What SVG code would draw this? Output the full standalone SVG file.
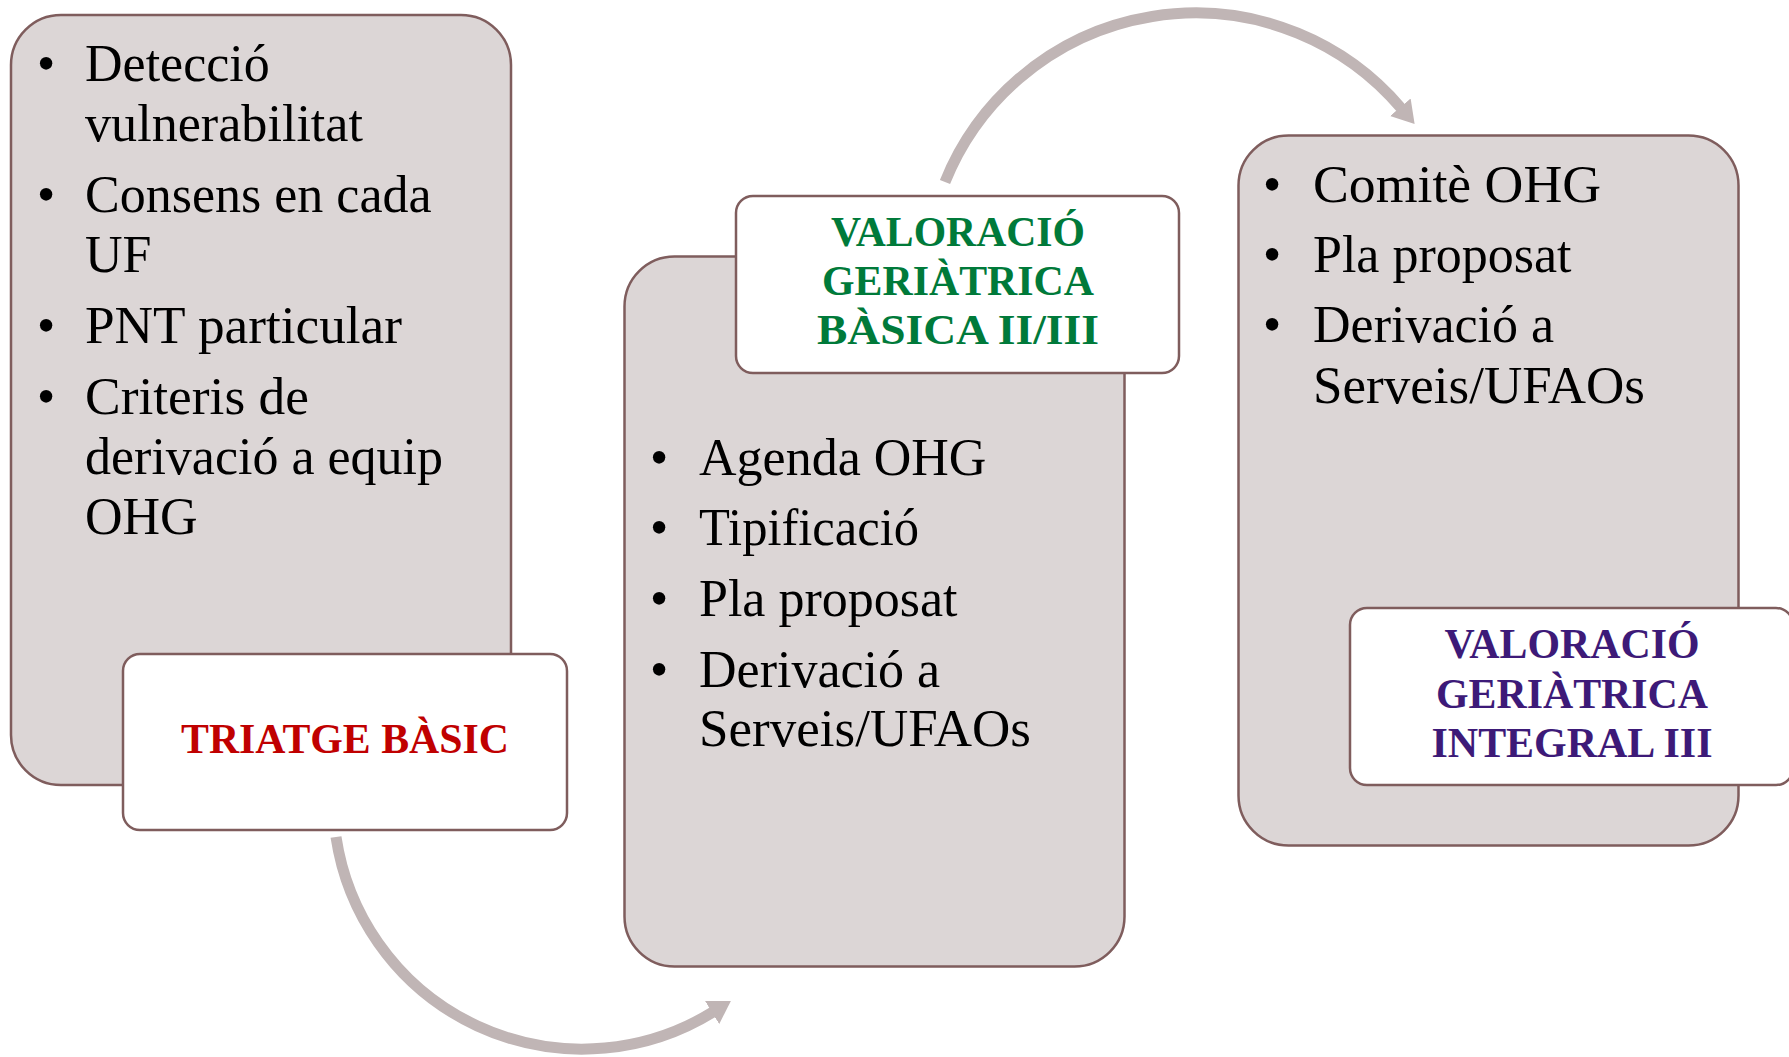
<svg xmlns="http://www.w3.org/2000/svg" width="1789" height="1057" viewBox="0 0 1789 1057">
  <style>
    .panel { fill: #DCD6D6; stroke: #7F5D5D; stroke-width: 2.5; }
    .label { fill: #FFFFFF; stroke: #7F5D5D; stroke-width: 2.5; }
    .body { font-family: "Liberation Serif", "Times New Roman", serif; font-size: 52px; fill: #000000; }
    .bullet { font-family: "Liberation Serif", "Times New Roman", serif; font-size: 52px; fill: #000000; text-anchor: middle; }
    .title { font-family: "Liberation Serif", "Times New Roman", serif; font-size: 42px; font-weight: bold; text-anchor: middle; }
    .red { fill: #C00000; }
    .green { fill: #007A3A; }
    .purple { fill: #3D1A78; }
    .conn { fill: none; stroke: #C0B5B5; stroke-width: 11; stroke-linecap: butt; }
  </style>
  <defs>
    <marker id="head" viewBox="0 -14 23 28" markerWidth="23" markerHeight="28" refX="1" refY="0" orient="auto" markerUnits="userSpaceOnUse">
      <path d="M0,-13.5 L22,0 L0,13.5 Z" fill="#C0B5B5"/>
    </marker>
  </defs>

  <g id="connectors">
    <path class="conn" d="M336,837 A249,249 0 0 0 713,1012" marker-end="url(#head)"/>
    <path class="conn" d="M945,182 A270,270 0 0 1 1401,108" marker-end="url(#head)"/>
  </g>

  <g id="step1">
    <rect class="panel" x="11" y="15" width="500" height="770" rx="50" ry="50"/>
    <g id="step1-items">
      <text class="bullet" x="46" y="81">•</text>
      <text class="body" x="85" y="81">Detecció</text>
      <text class="body" x="85" y="141" textLength="278" lengthAdjust="spacingAndGlyphs">vulnerabilitat</text>
      <text class="bullet" x="46" y="212">•</text>
      <text class="body" x="85" y="212">Consens en cada</text>
      <text class="body" x="85" y="272">UF</text>
      <text class="bullet" x="46" y="343">•</text>
      <text class="body" x="85" y="343" textLength="317" lengthAdjust="spacingAndGlyphs">PNT particular</text>
      <text class="bullet" x="46" y="414">•</text>
      <text class="body" x="85" y="414" textLength="224" lengthAdjust="spacingAndGlyphs">Criteris de</text>
      <text class="body" x="85" y="474">derivació a equip</text>
      <text class="body" x="85" y="534">OHG</text>
    </g>
  </g>
  <g id="label1">
    <rect class="label" x="123" y="654" width="444" height="176" rx="17" ry="17"/>
    <text class="title red" x="345" y="753" textLength="328" lengthAdjust="spacingAndGlyphs">TRIATGE BÀSIC</text>
  </g>

  <g id="step2">
    <rect class="panel" x="624.5" y="256.5" width="500" height="710" rx="50" ry="50"/>
    <g id="step2-items">
      <text class="bullet" x="659" y="475">•</text>
      <text class="body" x="699" y="475">Agenda OHG</text>
      <text class="bullet" x="659" y="545">•</text>
      <text class="body" x="699" y="545" textLength="220" lengthAdjust="spacingAndGlyphs">Tipificació</text>
      <text class="bullet" x="659" y="616">•</text>
      <text class="body" x="699" y="616">Pla proposat</text>
      <text class="bullet" x="659" y="687">•</text>
      <text class="body" x="699" y="687">Derivació a</text>
      <text class="body" x="699" y="746" textLength="332" lengthAdjust="spacingAndGlyphs">Serveis/UFAOs</text>
    </g>
  </g>
  <g id="label2">
    <rect class="label" x="736" y="196" width="443" height="177" rx="17" ry="17"/>
    <text class="title green" x="958" y="246" textLength="254" lengthAdjust="spacingAndGlyphs">VALORACIÓ</text>
    <text class="title green" x="958" y="295" textLength="272" lengthAdjust="spacingAndGlyphs">GERIÀTRICA</text>
    <text class="title green" x="958" y="344" textLength="282" lengthAdjust="spacingAndGlyphs">BÀSICA II/III</text>
  </g>

  <g id="step3">
    <rect class="panel" x="1238.5" y="135.5" width="500" height="710" rx="50" ry="50"/>
    <g id="step3-items">
      <text class="bullet" x="1272" y="202">•</text>
      <text class="body" x="1313" y="202" textLength="288" lengthAdjust="spacingAndGlyphs">Comitè OHG</text>
      <text class="bullet" x="1272" y="272">•</text>
      <text class="body" x="1313" y="272">Pla proposat</text>
      <text class="bullet" x="1272" y="342">•</text>
      <text class="body" x="1313" y="342">Derivació a</text>
      <text class="body" x="1313" y="403" textLength="332" lengthAdjust="spacingAndGlyphs">Serveis/UFAOs</text>
    </g>
  </g>
  <g id="label3">
    <rect class="label" x="1350" y="608" width="443" height="177" rx="17" ry="17"/>
    <text class="title purple" x="1572" y="658" textLength="255" lengthAdjust="spacingAndGlyphs">VALORACIÓ</text>
    <text class="title purple" x="1572" y="708" textLength="272" lengthAdjust="spacingAndGlyphs">GERIÀTRICA</text>
    <text class="title purple" x="1572" y="757" textLength="281" lengthAdjust="spacingAndGlyphs">INTEGRAL III</text>
  </g>
</svg>
